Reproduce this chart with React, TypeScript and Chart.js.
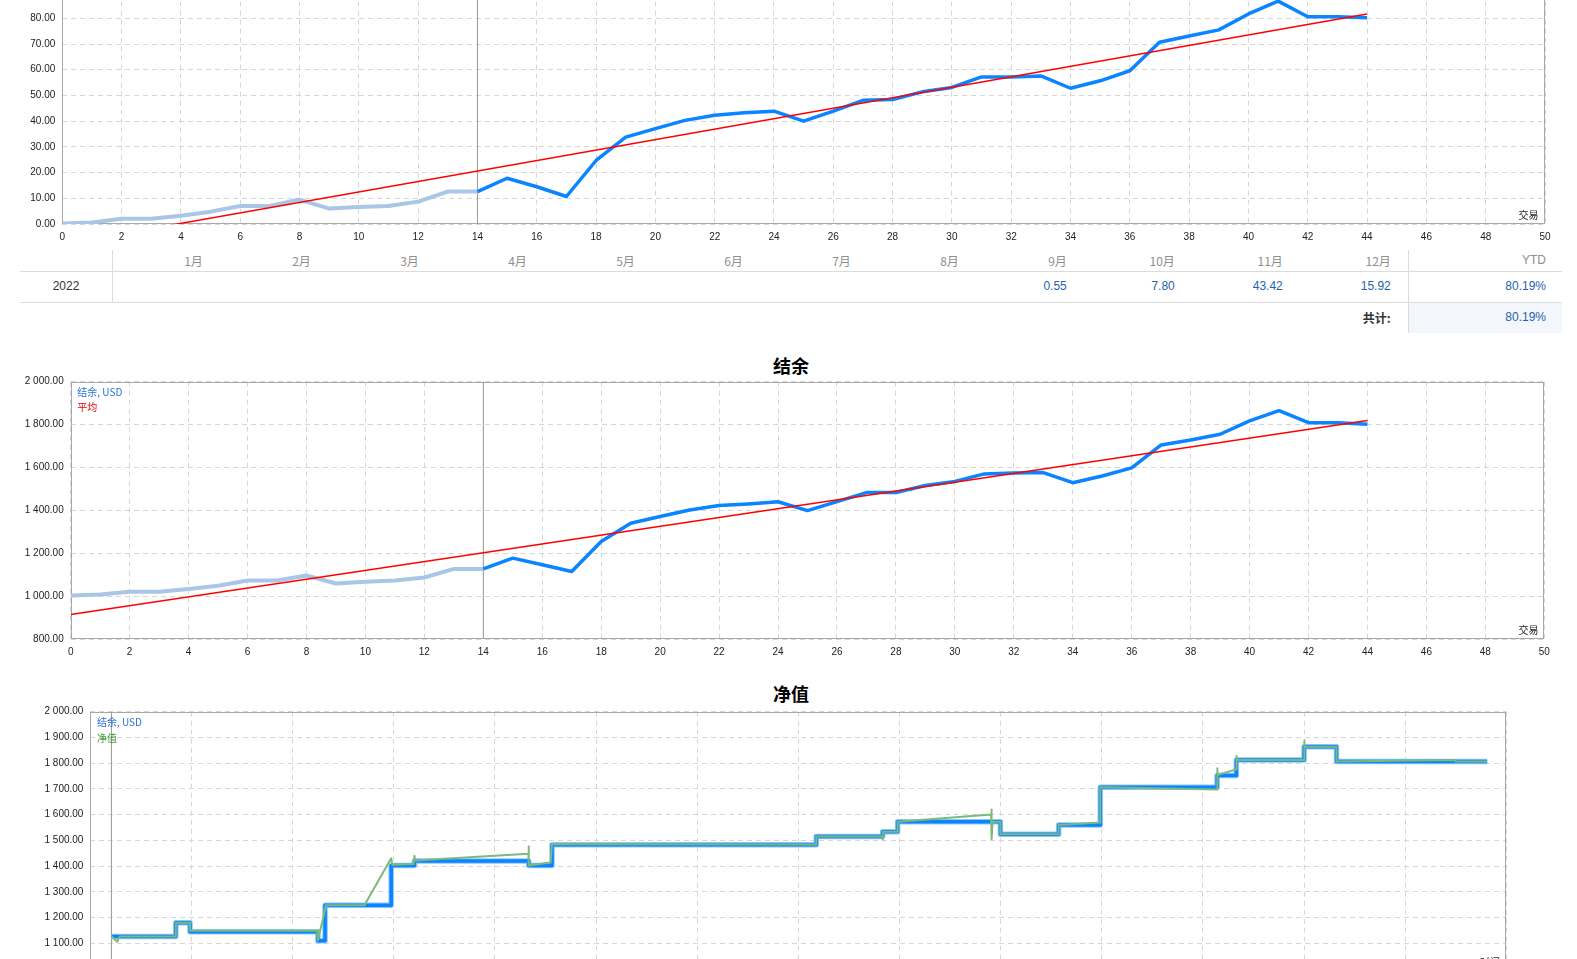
import React, { useEffect, useRef } from 'react';
import { Chart, registerables } from 'chart.js';

Chart.register(...registerables);

// ---------------- data ----------------
const trades = [
  0, 1, 2, 3, 4, 5, 6, 7, 8, 9, 10, 11, 12, 13, 14, 15, 16, 17, 18, 19, 20, 21, 22,
  23, 24, 25, 26, 27, 28, 29, 30, 31, 32, 33, 34, 35, 36, 37, 38, 39, 40, 41, 42, 43, 44,
];
const growthPct = [
  0.2, 0.6, 2.0, 2.0, 3.2, 4.8, 7.0, 7.0, 9.5, 6.0, 6.6, 7.0, 8.7, 12.6, 12.6, 17.8, 14.5,
  10.7, 24.7, 33.8, 37.1, 40.3, 42.3, 43.3, 43.9, 40.0, 43.9, 48.1, 48.4, 51.4, 53.1, 57.2,
  57.2, 57.6, 52.8, 55.7, 59.6, 70.7, 73.1, 75.5, 81.7, 86.7, 80.6, 80.6, 80.2,
];
const balanceUsd = [
  1003, 1008, 1020, 1020, 1033, 1048, 1073, 1073, 1096, 1059, 1067, 1073, 1087, 1127, 1127,
  1177, 1146, 1115, 1255, 1340, 1371, 1402, 1423, 1430, 1440, 1399, 1441, 1483, 1483, 1516,
  1535, 1570, 1574, 1576, 1529, 1560, 1598, 1705, 1728, 1755, 1817, 1865, 1809, 1809, 1802,
];
const historyStart = 14;
const trendTrades = [0, 44];
const trendPct = [-7.9, 81.7];
const trendUsd = [914.5, 1818.6];

// equity chart (time axis in grid intervals)
const equityStart = 0.208;
const balanceStepTime = [
  0.208, 0.844, 0.985, 2.25, 2.32, 2.974, 3.204, 4.334, 4.564, 7.177, 7.833, 7.981, 8.997,
  9.573, 9.985, 11.14, 11.33, 12.0, 12.32, 13.81,
];
const balanceStepUsd = [
  1126, 1180, 1145, 1110, 1248, 1402, 1420, 1402, 1483, 1515, 1533, 1572, 1524, 1560, 1706,
  1752, 1812, 1864, 1806, 1806,
];
const equityTime = [
  0.208, 0.265, 0.289, 0.844, 0.844, 0.985, 0.985, 2.243, 2.25, 2.33, 2.709, 2.974, 2.985,
  3.195, 3.204, 3.21, 4.33, 4.334, 4.334, 4.55, 4.564, 7.177, 7.177, 7.83, 7.833, 7.836,
  7.981, 7.981, 8.905, 8.908, 8.912, 8.92, 8.997, 8.997, 9.573, 9.573, 9.985, 9.985, 11.14,
  11.14, 11.145, 11.33, 11.33, 11.335, 12.0, 12.0, 12.005, 12.32, 12.32, 13.49, 13.5, 13.81,
];
const equityUsd = [
  1128, 1106, 1126, 1126, 1180, 1180, 1149, 1149, 1113, 1248, 1248, 1430, 1405, 1408, 1440,
  1422, 1448, 1476, 1402, 1414, 1486, 1484, 1515, 1515, 1503, 1533, 1533, 1572, 1600, 1620,
  1504, 1572, 1572, 1524, 1524, 1560, 1569, 1706, 1698, 1780, 1754, 1776, 1828, 1812, 1812,
  1888, 1864, 1864, 1806, 1812, 1806, 1806,
];

// table
const months = ['1月', '2月', '3月', '4月', '5月', '6月', '7月', '8月', '9月', '10月', '11月', '12月'];
const monthReturns: (string | null)[] = [null, null, null, null, null, null, null, null, '0.55', '7.80', '43.42', '15.92'];
const yearLabel = '2022';
const ytdLabel = 'YTD';
const ytdValue = '80.19%';
const totalLabel = '共计:';
const totalValue = '80.19%';

// ---------------- styles ----------------
const FONT = '"Liberation Sans", "Noto Sans CJK SC", sans-serif';
const CJK = '"Noto Sans CJK SC", "Liberation Sans", sans-serif';
const GRID = '#d6d6d6';
const FRAME = '#a8a8a8';
const BLUE = '#0a84ff';
const LIGHT = '#a9c6e6';
const RED = '#ff0000';
const GREEN = '#7aba7a';

function fmtSpace(v: number) {
  const [i, d] = v.toFixed(2).split('.');
  return i.replace(/\B(?=(\d{3})+(?!\d))/g, ' ') + '.' + d;
}

const framePlugin = {
  id: 'frame',
  beforeDatasetsDraw(chart: any) {
    const { ctx, chartArea: a } = chart;
    ctx.save();
    ctx.strokeStyle = FRAME;
    ctx.lineWidth = 1;
    const l = Math.round(a.left) + 0.5;
    const t = Math.round(a.top) + 0.5;
    const r = Math.round(a.right) - 0.5;
    const b = Math.round(a.bottom) - 0.5;
    ctx.strokeRect(l, t, r - l, b - t);
    ctx.restore();
  },
};

type AxisSpec = {
  xMin: number; xMax: number; xStep: number; xLabels: boolean;
  yMin: number; yMax: number; yStep: number; yFmt: (v: number) => string;
  yWidth: number; padTop: number; padRight: number;
};

function makeOptions(p: AxisSpec): any {
  const tickFont = { family: FONT, size: 10 };
  return {
    responsive: false,
    animation: false,
    events: [],
    layout: { padding: { left: 0, top: p.padTop, right: p.padRight, bottom: 0 } },
    plugins: { legend: { display: false }, tooltip: { enabled: false }, title: { display: false } },
    elements: { point: { radius: 0 }, line: { tension: 0, borderJoinStyle: 'round', borderCapStyle: 'butt' } },
    scales: {
      x: {
        type: 'linear',
        min: p.xMin,
        max: p.xMax,
        grid: { color: GRID, lineWidth: 1, drawTicks: false },
        border: { display: false, dash: [5, 4] },
        ticks: {
          stepSize: p.xStep,
          autoSkip: false,
          maxRotation: 0,
          padding: 7,
          color: '#222',
          font: tickFont,
          callback: (v: number) => (p.xLabels ? String(v) : ''),
        },
        afterFit: (s: any) => {
          s.height = 26;
          s.paddingLeft = 0;
          s.paddingRight = 0;
        },
      },
      y: {
        type: 'linear',
        min: p.yMin,
        max: p.yMax,
        grid: { color: GRID, lineWidth: 1, drawTicks: false },
        border: { display: false, dash: [5, 4] },
        ticks: {
          stepSize: p.yStep,
          padding: 7,
          color: '#222',
          font: tickFont,
          callback: (v: number) => p.yFmt(v),
        },
        afterFit: (s: any) => {
          s.width = p.yWidth;
          s.paddingTop = 0;
          s.paddingBottom = 0;
        },
      },
    },
  };
}

function pts(xs: number[], ys: number[]) {
  return xs.map((x, i) => ({ x, y: ys[i] }));
}

function tradeDatasets(values: number[], trend: number[], yMin: number, yMax: number) {
  const all = pts(trades, values);
  const s = trades.indexOf(historyStart);
  return [
    { data: pts(trendTrades, trend), borderColor: RED, borderWidth: 1.5 },
    { data: all.slice(s), borderColor: BLUE, borderWidth: 3.5 },
    { data: all.slice(0, s + 1), borderColor: LIGHT, borderWidth: 4 },
    {
      data: [{ x: historyStart, y: yMin }, { x: historyStart, y: yMax }],
      borderColor: '#999999',
      borderWidth: 1,
    },
  ];
}

function ChartCanvas(props: { left: number; top: number; width: number; height: number; config: () => any }) {
  const ref = useRef<HTMLCanvasElement>(null);
  useEffect(() => {
    const chart = new Chart(ref.current as HTMLCanvasElement, props.config());
    return () => chart.destroy();
  }, []);
  return (
    <canvas
      ref={ref}
      width={props.width}
      height={props.height}
      style={{ position: 'absolute', left: props.left, top: props.top, width: props.width, height: props.height }}
    />
  );
}

const growthConfig = () => ({
  type: 'line',
  data: { datasets: tradeDatasets(growthPct, trendPct, 0, 90) },
  options: makeOptions({
    xMin: 0, xMax: 50, xStep: 2, xLabels: true,
    yMin: 0, yMax: 90, yStep: 10, yFmt: (v) => v.toFixed(2),
    yWidth: 62.3, padTop: 12.6, padRight: 32,
  }),
  plugins: [framePlugin],
});

const balanceConfig = () => ({
  type: 'line',
  data: { datasets: tradeDatasets(balanceUsd, trendUsd, 800, 2000) },
  options: makeOptions({
    xMin: 0, xMax: 50, xStep: 2, xLabels: true,
    yMin: 800, yMax: 2000, yStep: 200, yFmt: fmtSpace,
    yWidth: 70.7, padTop: 11.7, padRight: 32.7,
  }),
  plugins: [framePlugin],
});

const equityConfig = () => ({
  type: 'line',
  data: {
    datasets: [
      { data: pts(equityTime, equityUsd), borderColor: GREEN, borderWidth: 2 },
      { data: pts(balanceStepTime, balanceStepUsd), borderColor: BLUE, borderWidth: 3.5, stepped: 'before' },
      { data: pts(balanceStepTime, balanceStepUsd), borderColor: '#8cc6ff', borderWidth: 5.5, stepped: 'before' },
      {
        data: [{ x: equityStart, y: 1000 }, { x: equityStart, y: 2000 }],
        borderColor: '#999999',
        borderWidth: 1,
      },
    ],
  },
  options: makeOptions({
    xMin: 0, xMax: 14, xStep: 1, xLabels: false,
    yMin: 1000, yMax: 2000, yStep: 100, yFmt: fmtSpace,
    yWidth: 90.4, padTop: 11.7, padRight: 70.6,
  }),
  plugins: [framePlugin],
});

function Txt(props: {
  left: number; cy: number; width?: number; align?: 'left' | 'right' | 'center';
  size?: number; color?: string; bold?: boolean; family?: string; children: React.ReactNode;
}) {
  const size = props.size ?? 12;
  const lh = Math.round(size * 1.4);
  return (
    <div
      style={{
        position: 'absolute',
        left: props.left,
        top: props.cy - lh / 2,
        width: props.width,
        height: lh,
        lineHeight: lh + 'px',
        fontSize: size,
        textAlign: props.align ?? 'left',
        color: props.color ?? '#333',
        fontWeight: props.bold ? 700 : 400,
        fontFamily: props.family ?? FONT,
        whiteSpace: 'nowrap',
      }}
    >
      {props.children}
    </div>
  );
}

function Line(props: { left: number; top: number; width: number; height: number; color?: string }) {
  return (
    <div
      style={{
        position: 'absolute',
        left: props.left,
        top: props.top,
        width: props.width,
        height: props.height,
        background: props.color ?? '#dcdcdc',
      }}
    />
  );
}

export default function App() {
  const colLeft = 112.3;
  const colW = 108;
  return (
    <div
      style={{
        position: 'fixed',
        left: 0,
        top: 0,
        width: 1577,
        height: 959,
        overflow: 'hidden',
        background: '#ffffff',
        fontFamily: FONT,
      }}
    >
      <ChartCanvas left={0} top={-20} width={1577} height={270} config={growthConfig} />
      <Txt left={1480} cy={215} width={58.6} align="right" size={10} color="#222" family={CJK}>交易</Txt>

      {/* monthly table */}
      <Shade />
      <Line left={20} top={271} width={1542} height={1} />
      <Line left={20} top={302} width={1542} height={1} />
      <Line left={112} top={250} width={1} height={52} />
      <Line left={1408} top={250} width={1} height={83} />
      {months.map((m, i) => (
        <Txt key={m} left={colLeft + i * colW} cy={260} width={colW - 17.5} align="right" color="#8e8e8e" family={CJK}>
          {m}
        </Txt>
      ))}
      <Txt left={1409} cy={260} width={137} align="right" color="#8e8e8e">{ytdLabel}</Txt>
      <Txt left={20} cy={286.7} width={92} align="center" color="#333">{yearLabel}</Txt>
      {monthReturns.map((v, i) =>
        v === null ? null : (
          <Txt key={i} left={colLeft + i * colW} cy={286.7} width={colW - 17.5} align="right" color="#1f63ad">
            {v}
          </Txt>
        ),
      )}
      <Txt left={1409} cy={286.7} width={137} align="right" color="#1f63ad">{ytdValue}</Txt>
      <Txt left={1200} cy={317.7} width={190.7} align="right" color="#333" bold family={CJK}>{totalLabel}</Txt>
      <Txt left={1409} cy={317.7} width={137} align="right" color="#1f63ad">{totalValue}</Txt>

      {/* balance chart */}
      <Txt left={691} cy={365} width={200} align="center" size={18} color="#000" bold family={CJK}>结余</Txt>
      <ChartCanvas left={0} top={370} width={1577} height={295} config={balanceConfig} />
      <Txt left={77.3} cy={392.3} size={10} color="#2a6fd6" family={CJK}>结余, USD</Txt>
      <Txt left={77.3} cy={407.3} size={10} color="#e00000" family={CJK}>平均</Txt>
      <Txt left={1480} cy={630} width={58.6} align="right" size={10} color="#222" family={CJK}>交易</Txt>

      {/* equity chart */}
      <Txt left={691} cy={693.3} width={200} align="center" size={18} color="#000" bold family={CJK}>净值</Txt>
      <ChartCanvas left={0} top={700} width={1577} height={295} config={equityConfig} />
      <Txt left={97} cy={722.3} size={10} color="#2a6fd6" family={CJK}>结余, USD</Txt>
      <Txt left={97} cy={737.7} size={10} color="#3f9a3f" family={CJK}>净值</Txt>
      <Txt left={1440} cy={962} width={60} align="right" size={10} color="#222" family={CJK}>时间</Txt>
    </div>
  );
}

function Shade() {
  return (
    <div style={{ position: 'absolute', left: 1409, top: 303, width: 153, height: 30, background: '#f3f6fb' }} />
  );
}
